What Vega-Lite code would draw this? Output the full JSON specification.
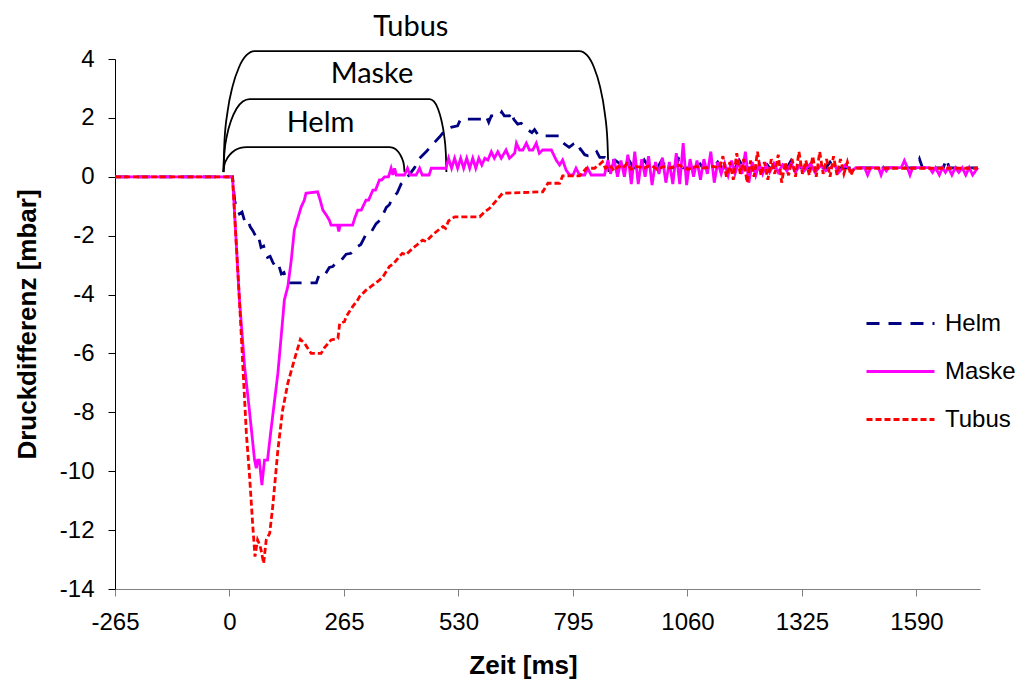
{
  "$schema": "https://vega.github.io/schema/vega-lite/v6.json",
  "width": 865,
  "height": 530,
  "autosize": {"type": "none"},
  "padding": {"left": 115, "top": 59, "right": 40, "bottom": 95},
  "background": "white",
  "config": {"view": {"stroke": null}, "font": "Liberation Sans", "axis": {"grid": false, "labelFont": "Liberation Sans", "titleFont": "Liberation Sans"}, "legend": {"labelFont": "Liberation Sans"}},
  "datasets": {
    "series": [
      {"s":"Helm","t":-265,"v":0},{"s":"Helm","t":7,"v":0},{"s":"Helm","t":12,"v":-0.82},{"s":"Helm","t":18,"v":-1.1},{"s":"Helm","t":23,"v":-1.26},{"s":"Helm","t":29,"v":-1.2},{"s":"Helm","t":35,"v":-1.5},{"s":"Helm","t":42,"v":-1.45},{"s":"Helm","t":48,"v":-1.7},{"s":"Helm","t":54,"v":-1.83},{"s":"Helm","t":60,"v":-2.0},{"s":"Helm","t":66,"v":-1.95},{"s":"Helm","t":73,"v":-2.4},{"s":"Helm","t":79,"v":-2.35},{"s":"Helm","t":84,"v":-2.6},{"s":"Helm","t":88,"v":-2.74},{"s":"Helm","t":94,"v":-2.7},{"s":"Helm","t":100,"v":-2.9},{"s":"Helm","t":108,"v":-3.08},{"s":"Helm","t":114,"v":-3.0},{"s":"Helm","t":120,"v":-3.3},{"s":"Helm","t":126,"v":-3.25},{"s":"Helm","t":132,"v":-3.53},{"s":"Helm","t":136,"v":-3.6},{"s":"Helm","t":201,"v":-3.6},{"s":"Helm","t":208,"v":-3.3},{"s":"Helm","t":222,"v":-3.3},{"s":"Helm","t":231,"v":-3.08},{"s":"Helm","t":239,"v":-3.05},{"s":"Helm","t":247,"v":-2.91},{"s":"Helm","t":258,"v":-2.85},{"s":"Helm","t":270,"v":-2.63},{"s":"Helm","t":281,"v":-2.6},{"s":"Helm","t":293,"v":-2.4},{"s":"Helm","t":304,"v":-2.3},{"s":"Helm","t":316,"v":-1.95},{"s":"Helm","t":327,"v":-1.9},{"s":"Helm","t":339,"v":-1.6},{"s":"Helm","t":350,"v":-1.45},{"s":"Helm","t":363,"v":-1.04},{"s":"Helm","t":370,"v":-0.95},{"s":"Helm","t":378,"v":-0.7},{"s":"Helm","t":388,"v":-0.55},{"s":"Helm","t":397,"v":-0.25},{"s":"Helm","t":407,"v":-0.1},{"s":"Helm","t":417,"v":0.09},{"s":"Helm","t":428,"v":0.3},{"s":"Helm","t":440,"v":0.63},{"s":"Helm","t":455,"v":0.85},{"s":"Helm","t":471,"v":1.11},{"s":"Helm","t":486,"v":1.35},{"s":"Helm","t":501,"v":1.62},{"s":"Helm","t":512,"v":1.68},{"s":"Helm","t":528,"v":1.73},{"s":"Helm","t":535,"v":1.96},{"s":"Helm","t":583,"v":1.96},{"s":"Helm","t":594,"v":2.07},{"s":"Helm","t":600,"v":1.85},{"s":"Helm","t":606,"v":2.07},{"s":"Helm","t":625,"v":2.07},{"s":"Helm","t":630,"v":2.2},{"s":"Helm","t":636,"v":2.07},{"s":"Helm","t":648,"v":2.07},{"s":"Helm","t":653,"v":2.2},{"s":"Helm","t":658,"v":1.95},{"s":"Helm","t":667,"v":1.79},{"s":"Helm","t":675,"v":1.82},{"s":"Helm","t":690,"v":1.6},{"s":"Helm","t":700,"v":1.5},{"s":"Helm","t":706,"v":1.6},{"s":"Helm","t":715,"v":1.4},{"s":"Helm","t":725,"v":1.39},{"s":"Helm","t":763,"v":1.39},{"s":"Helm","t":772,"v":1.15},{"s":"Helm","t":786,"v":1.0},{"s":"Helm","t":795,"v":1.1},{"s":"Helm","t":803,"v":0.88},{"s":"Helm","t":812,"v":0.95},{"s":"Helm","t":822,"v":0.75},{"s":"Helm","t":830,"v":0.71},{"s":"Helm","t":841,"v":0.71},{"s":"Helm","t":850,"v":0.85},{"s":"Helm","t":857,"v":0.66},{"s":"Helm","t":868,"v":0.66},{"s":"Helm","t":880,"v":0.5},{"s":"Helm","t":892,"v":0.57},{"s":"Helm","t":903,"v":0.45},{"s":"Helm","t":915,"v":0.3},{"s":"Helm","t":925,"v":0.55},{"s":"Helm","t":935,"v":0.3},{"s":"Helm","t":950,"v":0.3},{"s":"Helm","t":960,"v":0.57},{"s":"Helm","t":972,"v":0.3},{"s":"Helm","t":990,"v":0.3},{"s":"Helm","t":1000,"v":0.55},{"s":"Helm","t":1012,"v":0.3},{"s":"Helm","t":1030,"v":0.3},{"s":"Helm","t":1040,"v":0.6},{"s":"Helm","t":1050,"v":0.3},{"s":"Helm","t":1075,"v":0.3},{"s":"Helm","t":1085,"v":0.55},{"s":"Helm","t":1095,"v":0.3},{"s":"Helm","t":1120,"v":0.3},{"s":"Helm","t":1130,"v":0.5},{"s":"Helm","t":1140,"v":0.3},{"s":"Helm","t":1170,"v":0.3},{"s":"Helm","t":1180,"v":0.55},{"s":"Helm","t":1190,"v":0.3},{"s":"Helm","t":1230,"v":0.3},{"s":"Helm","t":1240,"v":0.5},{"s":"Helm","t":1250,"v":0.3},{"s":"Helm","t":1290,"v":0.3},{"s":"Helm","t":1300,"v":0.55},{"s":"Helm","t":1310,"v":0.3},{"s":"Helm","t":1380,"v":0.3},{"s":"Helm","t":1390,"v":0.5},{"s":"Helm","t":1400,"v":0.3},{"s":"Helm","t":1590,"v":0.3},{"s":"Helm","t":1597,"v":0.6},{"s":"Helm","t":1604,"v":0.3},{"s":"Helm","t":1652,"v":0.3},{"s":"Helm","t":1659,"v":0.6},{"s":"Helm","t":1666,"v":0.3},{"s":"Helm","t":1732,"v":0.3},
      {"s":"Maske","t":-265,"v":0},{"s":"Maske","t":7,"v":0},{"s":"Maske","t":23,"v":-4.18},{"s":"Maske","t":35,"v":-6.45},{"s":"Maske","t":46,"v":-7.92},{"s":"Maske","t":58,"v":-9.62},{"s":"Maske","t":62,"v":-9.9},{"s":"Maske","t":65,"v":-9.62},{"s":"Maske","t":69,"v":-9.62},{"s":"Maske","t":75,"v":-10.47},{"s":"Maske","t":81,"v":-9.62},{"s":"Maske","t":88,"v":-9.62},{"s":"Maske","t":96,"v":-8.6},{"s":"Maske","t":112,"v":-6.67},{"s":"Maske","t":123,"v":-4.86},{"s":"Maske","t":127,"v":-4.18},{"s":"Maske","t":135,"v":-3.73},{"s":"Maske","t":143,"v":-2.83},{"s":"Maske","t":150,"v":-1.81},{"s":"Maske","t":166,"v":-1.02},{"s":"Maske","t":173,"v":-0.8},{"s":"Maske","t":177,"v":-0.56},{"s":"Maske","t":204,"v":-0.51},{"s":"Maske","t":210,"v":-0.8},{"s":"Maske","t":216,"v":-1.13},{"s":"Maske","t":224,"v":-1.3},{"s":"Maske","t":231,"v":-1.47},{"s":"Maske","t":235,"v":-1.64},{"s":"Maske","t":250,"v":-1.64},{"s":"Maske","t":253,"v":-1.86},{"s":"Maske","t":256,"v":-1.64},{"s":"Maske","t":285,"v":-1.64},{"s":"Maske","t":290,"v":-1.4},{"s":"Maske","t":297,"v":-1.13},{"s":"Maske","t":305,"v":-1.13},{"s":"Maske","t":316,"v":-0.79},{"s":"Maske","t":322,"v":-0.79},{"s":"Maske","t":332,"v":-0.45},{"s":"Maske","t":338,"v":-0.45},{"s":"Maske","t":347,"v":-0.11},{"s":"Maske","t":352,"v":-0.11},{"s":"Maske","t":359,"v":0},{"s":"Maske","t":368,"v":0},{"s":"Maske","t":374,"v":0.29},{"s":"Maske","t":378,"v":0.06},{"s":"Maske","t":382,"v":0.29},{"s":"Maske","t":386,"v":0.06},{"s":"Maske","t":405,"v":0.06},{"s":"Maske","t":412,"v":0.29},{"s":"Maske","t":418,"v":0.06},{"s":"Maske","t":432,"v":0.06},{"s":"Maske","t":440,"v":0.29},{"s":"Maske","t":446,"v":0.06},{"s":"Maske","t":462,"v":0.06},{"s":"Maske","t":467,"v":0.29},{"s":"Maske","t":501,"v":0.29},{"s":"Maske","t":507,"v":0.63},{"s":"Maske","t":514,"v":0.29},{"s":"Maske","t":521,"v":0.63},{"s":"Maske","t":528,"v":0.29},{"s":"Maske","t":535,"v":0.63},{"s":"Maske","t":542,"v":0.29},{"s":"Maske","t":549,"v":0.63},{"s":"Maske","t":556,"v":0.29},{"s":"Maske","t":563,"v":0.63},{"s":"Maske","t":570,"v":0.29},{"s":"Maske","t":577,"v":0.63},{"s":"Maske","t":584,"v":0.4},{"s":"Maske","t":591,"v":0.63},{"s":"Maske","t":598,"v":0.57},{"s":"Maske","t":606,"v":0.85},{"s":"Maske","t":613,"v":0.63},{"s":"Maske","t":621,"v":0.85},{"s":"Maske","t":629,"v":0.63},{"s":"Maske","t":640,"v":0.91},{"s":"Maske","t":648,"v":0.63},{"s":"Maske","t":660,"v":0.8},{"s":"Maske","t":664,"v":1.14},{"s":"Maske","t":671,"v":0.91},{"s":"Maske","t":679,"v":0.91},{"s":"Maske","t":687,"v":1.14},{"s":"Maske","t":694,"v":0.91},{"s":"Maske","t":702,"v":0.91},{"s":"Maske","t":710,"v":1.14},{"s":"Maske","t":717,"v":0.8},{"s":"Maske","t":725,"v":0.91},{"s":"Maske","t":745,"v":0.91},{"s":"Maske","t":756,"v":0.57},{"s":"Maske","t":764,"v":0.4},{"s":"Maske","t":771,"v":0.57},{"s":"Maske","t":779,"v":0.23},{"s":"Maske","t":787,"v":0.06},{"s":"Maske","t":795,"v":0.06},{"s":"Maske","t":802,"v":0.29},{"s":"Maske","t":810,"v":0.06},{"s":"Maske","t":822,"v":0.06},{"s":"Maske","t":829,"v":0.29},{"s":"Maske","t":837,"v":0.06},{"s":"Maske","t":868,"v":0.06},{"s":"Maske","t":876,"v":0.57},{"s":"Maske","t":882,"v":0.1},{"s":"Maske","t":890,"v":0.6},{"s":"Maske","t":898,"v":0.0},{"s":"Maske","t":906,"v":0.55},{"s":"Maske","t":914,"v":0.0},{"s":"Maske","t":922,"v":0.75},{"s":"Maske","t":930,"v":-0.25},{"s":"Maske","t":938,"v":0.85},{"s":"Maske","t":946,"v":-0.25},{"s":"Maske","t":954,"v":0.6},{"s":"Maske","t":962,"v":0.0},{"s":"Maske","t":970,"v":0.7},{"s":"Maske","t":978,"v":-0.28},{"s":"Maske","t":986,"v":0.5},{"s":"Maske","t":994,"v":0.1},{"s":"Maske","t":1002,"v":0.65},{"s":"Maske","t":1010,"v":-0.2},{"s":"Maske","t":1018,"v":0.5},{"s":"Maske","t":1026,"v":-0.25},{"s":"Maske","t":1034,"v":0.8},{"s":"Maske","t":1042,"v":-0.25},{"s":"Maske","t":1050,"v":1.14},{"s":"Maske","t":1058,"v":-0.28},{"s":"Maske","t":1066,"v":0.6},{"s":"Maske","t":1074,"v":0.0},{"s":"Maske","t":1082,"v":0.55},{"s":"Maske","t":1090,"v":-0.1},{"s":"Maske","t":1098,"v":0.6},{"s":"Maske","t":1106,"v":0.1},{"s":"Maske","t":1114,"v":0.85},{"s":"Maske","t":1122,"v":-0.2},{"s":"Maske","t":1130,"v":0.5},{"s":"Maske","t":1138,"v":0.1},{"s":"Maske","t":1146,"v":0.45},{"s":"Maske","t":1154,"v":0.05},{"s":"Maske","t":1162,"v":0.55},{"s":"Maske","t":1170,"v":0.1},{"s":"Maske","t":1178,"v":0.5},{"s":"Maske","t":1186,"v":0.1},{"s":"Maske","t":1194,"v":0.85},{"s":"Maske","t":1202,"v":-0.2},{"s":"Maske","t":1210,"v":0.5},{"s":"Maske","t":1218,"v":0.05},{"s":"Maske","t":1226,"v":0.45},{"s":"Maske","t":1234,"v":0.1},{"s":"Maske","t":1242,"v":0.4},{"s":"Maske","t":1250,"v":0.15},{"s":"Maske","t":1260,"v":0.45},{"s":"Maske","t":1270,"v":0.15},{"s":"Maske","t":1280,"v":0.4},{"s":"Maske","t":1290,"v":0.2},{"s":"Maske","t":1300,"v":0.45},{"s":"Maske","t":1310,"v":0.15},{"s":"Maske","t":1320,"v":0.4},{"s":"Maske","t":1330,"v":0.2},{"s":"Maske","t":1345,"v":0.45},{"s":"Maske","t":1355,"v":0.15},{"s":"Maske","t":1370,"v":0.4},{"s":"Maske","t":1380,"v":0.2},{"s":"Maske","t":1400,"v":0.4},{"s":"Maske","t":1410,"v":0.15},{"s":"Maske","t":1425,"v":0.4},{"s":"Maske","t":1440,"v":0.2},{"s":"Maske","t":1450,"v":0.31},{"s":"Maske","t":1470,"v":0.31},{"s":"Maske","t":1477,"v":0.06},{"s":"Maske","t":1484,"v":0.31},{"s":"Maske","t":1502,"v":0.31},{"s":"Maske","t":1508,"v":0.06},{"s":"Maske","t":1514,"v":0.31},{"s":"Maske","t":1520,"v":0.2},{"s":"Maske","t":1526,"v":0.31},{"s":"Maske","t":1555,"v":0.31},{"s":"Maske","t":1562,"v":0.55},{"s":"Maske","t":1569,"v":0.31},{"s":"Maske","t":1575,"v":0.06},{"s":"Maske","t":1581,"v":0.31},{"s":"Maske","t":1620,"v":0.31},{"s":"Maske","t":1627,"v":0.15},{"s":"Maske","t":1634,"v":0.31},{"s":"Maske","t":1643,"v":0.06},{"s":"Maske","t":1650,"v":0.31},{"s":"Maske","t":1657,"v":0.15},{"s":"Maske","t":1664,"v":0.31},{"s":"Maske","t":1672,"v":0.06},{"s":"Maske","t":1680,"v":0.31},{"s":"Maske","t":1688,"v":0.15},{"s":"Maske","t":1696,"v":0.31},{"s":"Maske","t":1704,"v":0.06},{"s":"Maske","t":1712,"v":0.31},{"s":"Maske","t":1720,"v":0.06},{"s":"Maske","t":1732,"v":0.31},
      {"s":"Tubus","t":-265,"v":0},{"s":"Tubus","t":7,"v":0},{"s":"Tubus","t":23,"v":-4.18},{"s":"Tubus","t":31,"v":-6.45},{"s":"Tubus","t":39,"v":-8.71},{"s":"Tubus","t":46,"v":-10.07},{"s":"Tubus","t":54,"v":-11.88},{"s":"Tubus","t":59,"v":-12.9},{"s":"Tubus","t":62,"v":-12.6},{"s":"Tubus","t":65,"v":-12.33},{"s":"Tubus","t":70,"v":-12.5},{"s":"Tubus","t":73,"v":-12.67},{"s":"Tubus","t":79,"v":-13.13},{"s":"Tubus","t":85,"v":-12.33},{"s":"Tubus","t":93,"v":-12.11},{"s":"Tubus","t":100,"v":-11.21},{"s":"Tubus","t":112,"v":-9.28},{"s":"Tubus","t":123,"v":-7.92},{"s":"Tubus","t":135,"v":-7.01},{"s":"Tubus","t":150,"v":-6.22},{"s":"Tubus","t":164,"v":-5.52},{"s":"Tubus","t":174,"v":-5.66},{"s":"Tubus","t":189,"v":-6.0},{"s":"Tubus","t":212,"v":-6.0},{"s":"Tubus","t":220,"v":-5.8},{"s":"Tubus","t":235,"v":-5.54},{"s":"Tubus","t":251,"v":-5.49},{"s":"Tubus","t":255,"v":-4.98},{"s":"Tubus","t":266,"v":-4.92},{"s":"Tubus","t":270,"v":-4.75},{"s":"Tubus","t":285,"v":-4.41},{"s":"Tubus","t":297,"v":-4.18},{"s":"Tubus","t":301,"v":-4.07},{"s":"Tubus","t":316,"v":-3.85},{"s":"Tubus","t":330,"v":-3.7},{"s":"Tubus","t":347,"v":-3.51},{"s":"Tubus","t":355,"v":-3.4},{"s":"Tubus","t":370,"v":-3.05},{"s":"Tubus","t":380,"v":-2.95},{"s":"Tubus","t":393,"v":-2.71},{"s":"Tubus","t":400,"v":-2.6},{"s":"Tubus","t":408,"v":-2.65},{"s":"Tubus","t":424,"v":-2.43},{"s":"Tubus","t":435,"v":-2.3},{"s":"Tubus","t":447,"v":-2.15},{"s":"Tubus","t":455,"v":-2.2},{"s":"Tubus","t":470,"v":-1.97},{"s":"Tubus","t":480,"v":-1.85},{"s":"Tubus","t":494,"v":-1.69},{"s":"Tubus","t":500,"v":-1.75},{"s":"Tubus","t":507,"v":-1.5},{"s":"Tubus","t":521,"v":-1.36},{"s":"Tubus","t":579,"v":-1.36},{"s":"Tubus","t":590,"v":-1.2},{"s":"Tubus","t":602,"v":-1.07},{"s":"Tubus","t":615,"v":-0.85},{"s":"Tubus","t":632,"v":-0.56},{"s":"Tubus","t":725,"v":-0.51},{"s":"Tubus","t":737,"v":-0.22},{"s":"Tubus","t":764,"v":-0.22},{"s":"Tubus","t":771,"v":0.03},{"s":"Tubus","t":810,"v":0.03},{"s":"Tubus","t":818,"v":0.15},{"s":"Tubus","t":826,"v":0.29},{"s":"Tubus","t":845,"v":0.29},{"s":"Tubus","t":855,"v":0.4},{"s":"Tubus","t":863,"v":0.51},{"s":"Tubus","t":870,"v":0.29},{"s":"Tubus","t":880,"v":0.4},{"s":"Tubus","t":890,"v":0.2},{"s":"Tubus","t":900,"v":0.35},{"s":"Tubus","t":910,"v":0.29},{"s":"Tubus","t":920,"v":0.45},{"s":"Tubus","t":930,"v":0.25},{"s":"Tubus","t":940,"v":0.35},{"s":"Tubus","t":960,"v":0.3},{"s":"Tubus","t":975,"v":0.4},{"s":"Tubus","t":990,"v":0.25},{"s":"Tubus","t":1005,"v":0.35},{"s":"Tubus","t":1020,"v":0.3},{"s":"Tubus","t":1040,"v":0.4},{"s":"Tubus","t":1060,"v":0.25},{"s":"Tubus","t":1080,"v":0.35},{"s":"Tubus","t":1100,"v":0.3},{"s":"Tubus","t":1120,"v":0.35},{"s":"Tubus","t":1134,"v":0.3},{"s":"Tubus","t":1142,"v":0.7},{"s":"Tubus","t":1150,"v":0.0},{"s":"Tubus","t":1158,"v":0.5},{"s":"Tubus","t":1166,"v":-0.1},{"s":"Tubus","t":1174,"v":0.8},{"s":"Tubus","t":1182,"v":0.1},{"s":"Tubus","t":1190,"v":0.6},{"s":"Tubus","t":1198,"v":-0.2},{"s":"Tubus","t":1206,"v":0.55},{"s":"Tubus","t":1214,"v":0.0},{"s":"Tubus","t":1222,"v":0.85},{"s":"Tubus","t":1230,"v":0.05},{"s":"Tubus","t":1238,"v":0.5},{"s":"Tubus","t":1246,"v":-0.1},{"s":"Tubus","t":1254,"v":0.6},{"s":"Tubus","t":1262,"v":0.1},{"s":"Tubus","t":1270,"v":0.75},{"s":"Tubus","t":1278,"v":-0.2},{"s":"Tubus","t":1286,"v":0.5},{"s":"Tubus","t":1294,"v":0.05},{"s":"Tubus","t":1302,"v":0.6},{"s":"Tubus","t":1310,"v":0.0},{"s":"Tubus","t":1318,"v":0.85},{"s":"Tubus","t":1326,"v":0.1},{"s":"Tubus","t":1334,"v":0.55},{"s":"Tubus","t":1342,"v":0.05},{"s":"Tubus","t":1350,"v":0.7},{"s":"Tubus","t":1358,"v":0.0},{"s":"Tubus","t":1366,"v":0.85},{"s":"Tubus","t":1374,"v":0.1},{"s":"Tubus","t":1382,"v":0.6},{"s":"Tubus","t":1390,"v":0.0},{"s":"Tubus","t":1398,"v":0.7},{"s":"Tubus","t":1406,"v":0.06},{"s":"Tubus","t":1414,"v":0.6},{"s":"Tubus","t":1422,"v":0.1},{"s":"Tubus","t":1430,"v":0.5},{"s":"Tubus","t":1438,"v":0.06},{"s":"Tubus","t":1446,"v":0.29},{"s":"Tubus","t":1732,"v":0.29}
    ],
    "brackets": [
      {"b":"Helm","t":-14,"v":0.16},{"b":"Helm","t":-12.2,"v":0.38},{"b":"Helm","t":-6.9,"v":0.585},{"b":"Helm","t":1.5,"v":0.76},{"b":"Helm","t":12.5,"v":0.9},{"b":"Helm","t":25.3,"v":0.98},{"b":"Helm","t":39.3,"v":1.01},{"b":"Helm","t":370,"v":1.01},{"b":"Helm","t":379,"v":0.98},{"b":"Helm","t":387.5,"v":0.9},{"b":"Helm","t":394.7,"v":0.76},{"b":"Helm","t":400.3,"v":0.585},{"b":"Helm","t":403.8,"v":0.38},{"b":"Helm","t":405,"v":0.16},
      {"b":"Maske","t":-14,"v":0.16},{"b":"Maske","t":-11.9,"v":0.8},{"b":"Maske","t":-5.9,"v":1.4},{"b":"Maske","t":3.7,"v":1.91},{"b":"Maske","t":16.2,"v":2.31},{"b":"Maske","t":30.7,"v":2.56},{"b":"Maske","t":46.3,"v":2.64},{"b":"Maske","t":463,"v":2.64},{"b":"Maske","t":473.1,"v":2.56},{"b":"Maske","t":482.5,"v":2.31},{"b":"Maske","t":490.6,"v":1.91},{"b":"Maske","t":496.8,"v":1.4},{"b":"Maske","t":500.7,"v":0.8},{"b":"Maske","t":502,"v":0.16},
      {"b":"Tubus","t":-14,"v":0.16},{"b":"Tubus","t":-11.6,"v":1.22},{"b":"Tubus","t":-4.4,"v":2.22},{"b":"Tubus","t":7.1,"v":3.07},{"b":"Tubus","t":22,"v":3.72},{"b":"Tubus","t":39.3,"v":4.13},{"b":"Tubus","t":57.9,"v":4.27},{"b":"Tubus","t":810,"v":4.27},{"b":"Tubus","t":827.4,"v":4.13},{"b":"Tubus","t":843.5,"v":3.72},{"b":"Tubus","t":857.4,"v":3.07},{"b":"Tubus","t":868,"v":2.22},{"b":"Tubus","t":874.7,"v":1.22},{"b":"Tubus","t":877,"v":0.16}
    ],
    "labels": [
      {"l":"Helm","t":210.6,"v":1.51},{"l":"Maske","t":329.8,"v":3.18},{"l":"Tubus","t":419.6,"v":4.78}
    ]
  },
  "encoding": {
    "x": {"field": "t", "type": "quantitative",
      "scale": {"domain": [-265, 1737], "nice": false, "zero": false},
      "axis": {"values": [-265, 0, 265, 530, 795, 1060, 1325, 1590], "title": "Zeit [ms]",
        "labelExpr": "'' + datum.value",
        "labelFont": "Liberation Sans", "labelFontSize": 24, "labelColor": "black", "labelPadding": 14, "tickSize": 7, "tickColor": "#808080",
        "domainColor": "#808080", "labelFlush": false,
        "titleFont": "Liberation Sans", "titleFontSize": 26, "titleFontWeight": "bold", "titleColor": "black", "titleX": 408, "titleAlign": "center", "titleY": 76, "titleBaseline": "middle"}},
    "y": {"field": "v", "type": "quantitative",
      "scale": {"domain": [-14, 4], "nice": false, "zero": false},
      "axis": {"values": [-14, -12, -10, -8, -6, -4, -2, 0, 2, 4], "title": "Druckdifferenz [mbar]",
        "labelExpr": "'' + datum.value",
        "labelFont": "Liberation Sans", "labelFontSize": 24, "labelColor": "black", "labelPadding": 14, "tickSize": 7, "tickColor": "black",
        "domainColor": "black",
        "titleFont": "Liberation Sans", "titleFontSize": 26, "titleFontWeight": "bold", "titleColor": "black", "titleX": -88, "titleY": 265, "titleAngle": -90, "titleBaseline": "middle", "titleAlign": "center"}}
  },
  "layer": [
    {
      "data": {"name": "brackets"},
      "mark": {"type": "line", "color": "black", "strokeWidth": 1.8, "interpolate": "monotone"},
      "encoding": {"detail": {"field": "b"}}
    },
    {
      "data": {"name": "labels"},
      "mark": {"type": "text", "font": "Lato", "fontSize": 29, "color": "black", "baseline": "alphabetic", "align": "center"},
      "encoding": {"text": {"field": "l"}}
    },
    {
      "data": {"name": "series"},
      "transform": [{"filter": "datum.s === 'Helm'"}],
      "mark": {"type": "line", "strokeWidth": 2.8},
      "encoding": {
        "color": {"field": "s", "type": "nominal", "scale": {"domain": ["Helm", "Maske", "Tubus"], "range": ["#000080", "#FF00FF", "#FF0000"]},
          "legend": {"orient": "none", "legendX": 750, "legendY": 229, "title": null, "symbolType": "stroke", "symbolSize": 4624, "symbolStrokeWidth": 3, "labelFont": "Liberation Sans", "labelFontSize": 24, "labelColor": "black", "labelOffset": 9, "rowPadding": -23, "padding": 0}},
        "strokeDash": {"field": "s", "type": "nominal", "scale": {"domain": ["Helm", "Maske", "Tubus"], "range": [[13, 9], [1, 0], [6, 3]]}, "legend": null}
      }
    },
    {
      "data": {"name": "series"},
      "transform": [{"filter": "datum.s === 'Maske'"}],
      "mark": {"type": "line", "strokeWidth": 2.8},
      "encoding": {
        "color": {"field": "s", "type": "nominal"},
        "strokeDash": {"field": "s", "type": "nominal"}
      }
    },
    {
      "data": {"name": "series"},
      "transform": [{"filter": "datum.s === 'Tubus'"}],
      "mark": {"type": "line", "strokeWidth": 2.8},
      "encoding": {
        "color": {"field": "s", "type": "nominal"},
        "strokeDash": {"field": "s", "type": "nominal"}
      }
    }
  ]
}
